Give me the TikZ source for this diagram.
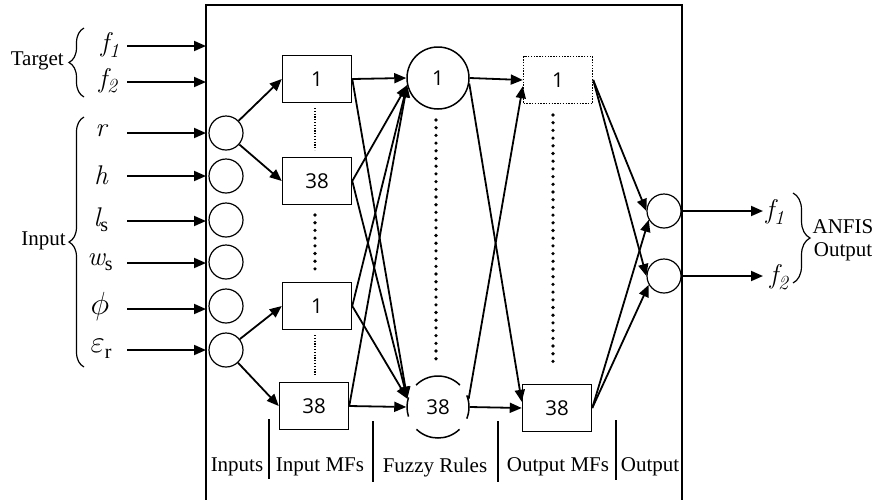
\RequirePackage{fix-cm}
\documentclass[tikz,border=0pt]{standalone}
\usepackage{fontspec}
\setmainfont{Liberation Serif}
\newfontfamily\numfont{Open Sans}
\newfontfamily\lmfont{Latin Modern Roman}
\newcommand\itl[1]{{\lmfont\itshape #1}}
\usetikzlibrary{arrows.meta,decorations.pathreplacing}
\newcommand\lsub[1]{\raisebox{-0.2em}{\fontsize{20}{20}\selectfont #1}}
\begin{document}
\begin{tikzpicture}[x=1pt,y=-1pt,
  conn/.style={line width=1.8pt,-{Triangle[length=12pt,width=10pt]}},
  mfbox/.style={draw,line width=1.5pt,minimum width=69pt,minimum height=47pt,inner sep=0pt,font=\numfont\fontsize{20.5}{22}\selectfont},
  dotbox/.style={mfbox,dash pattern=on 1.4pt off 1.4pt,line width=1.4pt},
  incirc/.style={draw,circle,line width=1.2pt,minimum size=34pt,inner sep=0pt},
  rulec/.style={circle,line width=1.5pt,minimum size=62pt,inner sep=0pt,font=\numfont\fontsize{20.5}{22}\selectfont},
  lab/.style={font=\fontsize{27}{30}\selectfont,inner sep=0pt},
  captext/.style={font=\fontsize{21}{23}\selectfont,inner sep=0pt},
  bigdots/.style={line width=3.6pt,line cap=round,dash pattern=on 0pt off 7.7pt},
  finedots/.style={line width=1.1pt,dash pattern=on 1.2pt off 1.6pt},
  sepline/.style={line width=1.2pt},
  br/.style={line width=1.2pt,decorate,decoration={brace,amplitude=#1}},
]
\useasboundingbox (0,0) rectangle (880,499);
% main box (open at the bottom)
\draw[line width=1.5pt] (206,505) -- (206,5) -- (682,5) -- (682,505);

% input arrows
\foreach \n/\y in {f1/46,f2/82,r/133,h/176,l/221,w/263,p/309,e/350}{
  \coordinate (s\n) at (127,\y);
  \coordinate (t\n) at (206,\y);
  \draw[conn] (s\n) -- (t\n);
}
% labels
\node[lab] (lf1) at (110,45) {\itl{f}\lsub{\itl{1}}};
\node[lab] (lf2) at (108,81) {\itl{f}\lsub{\itl{2}}};
\node[lab] (lr) at (101,131) {\itl{r}};
\node[lab] (lh) at (101,175) {\itl{h}};
\node[lab] (ll) at (101,220) {\itl{l}\lsub{s}};
\node[lab] (lw) at (100,262) {\itl{w}\lsub{s}};
\node[lab,font=\fontsize{32}{34}\selectfont] (lp) at (100,306) {$\phi$};
\node[lab] (le) at (101,349) {{\fontsize{31}{32}\selectfont$\varepsilon$}\lsub{r}};

% braces and group labels
\draw[br=15pt] (84,97) -- (84,28);
\node[captext,anchor=east] (tgt) at (64,61) {Target};
\draw[br=15pt] (84,367) -- (84,117);
\node[captext,anchor=east] (inp) at (66,241) {Input};

% input layer circles
\foreach \n/\y in {1/133,2/176,3/220,4/262,5/306,6/350}
  \node[incirc] (in\n) at (226,\y) {};

% input MFs
\node[mfbox] (mfa) at (317,79) {1};
\node[mfbox] (mfb) at (317,181) {38};
\node[mfbox] (mfc) at (317,306) {1};
\node[mfbox] (mfd) at (314,406) {38};
\draw[finedots] (315,108) -- (315,150);
\draw[bigdots] (315,215) -- (315,272);
\draw[finedots] (315,335) -- (315,376);

% rules
\node[rulec,draw] (r1) at (438,78) {1};
\node[rulec] (r38) at (438,407) {38};
\begin{scope}[shift={(438,407)},y=1pt]
  \draw[line width=1.5pt] (45:31) arc[start angle=45,end angle=135,radius=31];
  \draw[line width=1.5pt] (226:31) arc[start angle=226,end angle=314,radius=31];
  \draw[line width=1.5pt] (162:31) arc[start angle=162,end angle=198,radius=31];
  \draw[line width=1.5pt] (-22:31) arc[start angle=-22,end angle=22,radius=31];
\end{scope}
\draw[bigdots] (436,120) -- (436,364);

% output MFs
\node[dotbox] (om1) at (558,80) {1};
\node[mfbox] (om38) at (557,408) {38};
\draw[bigdots] (553,115) -- (553,368);

% output circles
\node[incirc] (o1) at (664,211) {};
\node[incirc] (o2) at (664,276) {};

% connections
\draw[conn] (in1) -- (mfa.west);
\draw[conn] (in1) -- (mfb.west);
\draw[conn] (in6) -- (mfc.west);
\draw[conn] (in6) -- (mfd.west);

\draw[conn] (mfa.east) -- (r1.west);
\draw[conn] (mfb.east) -- (r1.193);
\draw[conn] (mfc.east) -- (r1.193);
\draw[conn] (mfd.east) -- (r1.193);
\draw[conn] (mfa.east) -- (r38.165);
\draw[conn] (mfb.east) -- (r38.165);
\draw[conn] (mfc.east) -- (r38.165);
\draw[conn] (mfd.east) -- (r38.west);

\draw[conn] (r1.east) -- (om1.west);
\draw[conn] (r1.-10) -- (om38.170);
\draw[conn] (r38.15) -- (om1.190);
\draw[conn] (r38.east) -- (om38.west);

\draw[conn] (om1.east) -- (o1.180);
\draw[conn] (om1.east) -- (o2.180);
\draw[conn] (om38.east) -- (o1.210);
\draw[conn] (om38.east) -- (o2.210);

% outputs
\coordinate (tf1) at (763,211);
\coordinate (tf2) at (763,276);
\draw[conn] (o1.east) -- (tf1);
\draw[conn] (o2.east) -- (tf2);
\node[lab] (of1) at (775,212) {\itl{f}\lsub{\itl{1}}};
\node[lab] (of2) at (779,277) {\itl{f}\lsub{\itl{2}}};
\draw[br=17pt] (793,193) -- (793,283);
\node[captext,align=center] (anfis) at (843,240) {ANFIS\\Output};

% bottom layer labels
\node[captext] (c1) at (237,467) {Inputs};
\node[captext] (c2) at (320,467) {Input MFs};
\node[captext] (c3) at (435,467) {Fuzzy Rules};
\node[captext] (c4) at (558,467) {Output MFs};
\node[captext] (c5) at (650,467) {Output};
\draw[sepline] (269,419) -- (269,479);
\draw[sepline] (373,421) -- (373,482);
\draw[sepline] (498,421) -- (498,482);
\draw[sepline] (616,420) -- (616,480);
\end{tikzpicture}
\end{document}
